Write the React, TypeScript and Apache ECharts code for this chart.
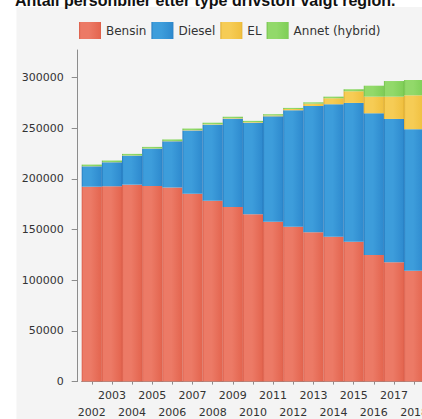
import React, { useEffect, useRef } from "react";
import * as echarts from "echarts";

const TITLE = "Antall personbiler etter type drivstoff valgt region.";
const YEARS = ["2002","2003","2004","2005","2006","2007","2008","2009","2010","2011","2012","2013","2014","2015","2016","2017","2018"];
const BENSIN = [192200,192600,194200,192900,191400,185300,178400,172200,165100,157700,152800,147200,142900,138000,124900,117700,109400];
const DIESEL = [20100,23700,28600,36800,45600,62400,75000,87100,90200,103900,114800,124600,130600,136800,139700,141300,139500];
const EL = [200,200,250,250,300,350,400,500,600,800,1200,2300,5900,11500,16400,22000,33400];
const ANNET = [1500,1500,1500,1500,1500,1500,1500,1400,1200,1300,1100,1300,1600,2000,10800,15400,15100];
const Y_TICKS = [0,50000,100000,150000,200000,250000,300000];
const SERIES_NAMES = ["Bensin","Diesel","EL","Annet (hybrid)"];

function grad(dark: string, light: string, base: string) {
  return new echarts.graphic.LinearGradient(0, 0, 1, 0, [
    { offset: 0, color: dark },
    { offset: 0.08, color: light },
    { offset: 0.45, color: light },
    { offset: 0.95, color: base },
    { offset: 1, color: dark },
  ]);
}

export default function App() {
  const ref = useRef<HTMLDivElement>(null);
  useEffect(() => {
    if (!ref.current) return;
    const chart = echarts.init(ref.current, undefined, { renderer: "svg" });
    const colors = [
      grad("#d95c48", "#ec7a66", "#e46650"),
      grad("#2479bd", "#3d9ddb", "#2f8bcf"),
      grad("#dcaa2c", "#f6cc55", "#f0c040"),
      grad("#6fbf47", "#92d96a", "#80cf58"),
    ];
    const data = [BENSIN, DIESEL, EL, ANNET];
    chart.setOption({
      animation: false,
      backgroundColor: "#ffffff",
      textStyle: { fontFamily: "DejaVu Sans" },
      graphic: [
        { type: "rect", z: -100, shape: { x: 16.5, y: 7, width: 420, height: 420 }, style: { fill: "#f4f4f4" } },
        { type: "text", z: 100, x: 15, y: -8, style: { text: TITLE, fontFamily: "Liberation Sans", fontWeight: "bold", fontSize: 16, fill: "#111111", verticalAlign: "top" } },
      ],
      legend: {
        left: 74,
        top: 17,
        itemWidth: 22,
        itemHeight: 17,
        itemGap: 5,
        icon: "rect",
        selectedMode: false,
        textStyle: { fontFamily: "DejaVu Sans", fontSize: 12, color: "#333333" },
        data: SERIES_NAMES,
      },
      grid: { left: 81.7, right: 1.8, top: 50, bottom: 37.4, outerBoundsMode: "none", containLabel: false },
      xAxis: {
        type: "category",
        data: YEARS,
        axisLine: { lineStyle: { color: "#8c8c8c", width: 1 } },
        axisTick: { show: true, alignWithLabel: true, length: 3, lineStyle: { color: "#8c8c8c" } },
        axisLabel: {
          interval: 0,
          hideOverlap: false,
          margin: 5,
          fontSize: 11,
          lineHeight: 17,
          color: "#333333",
          formatter: (v: string, i: number) => (i % 2 === 0 ? "\n" + v : v),
        },
      },
      yAxis: {
        type: "value",
        min: 0,
        max: 327000,
        interval: 50000,
        offset: 4,
        splitLine: { show: false },
        axisLine: { show: true, lineStyle: { color: "#8c8c8c", width: 1 } },
        axisTick: { show: true, length: 6, lineStyle: { color: "#8c8c8c" }, customValues: Y_TICKS },
        axisLabel: {
          margin: 14,
          fontSize: 11,
          color: "#333333",
          customValues: Y_TICKS,
          formatter: (v: number) => String(v),
        },
      },
      series: SERIES_NAMES.map((name, k) => ({
        name,
        type: "bar",
        stack: "total",
        barCategoryGap: "0%",
        itemStyle: { color: colors[k] },
        data: data[k],
      })),
    });
    return () => chart.dispose();
  }, []);
  return (
    <div style={{ position: "fixed", left: 0, top: 0, width: 422, height: 419, overflow: "hidden" }}>
      <div ref={ref} style={{ width: 426, height: 419 }} />
    </div>
  );
}
